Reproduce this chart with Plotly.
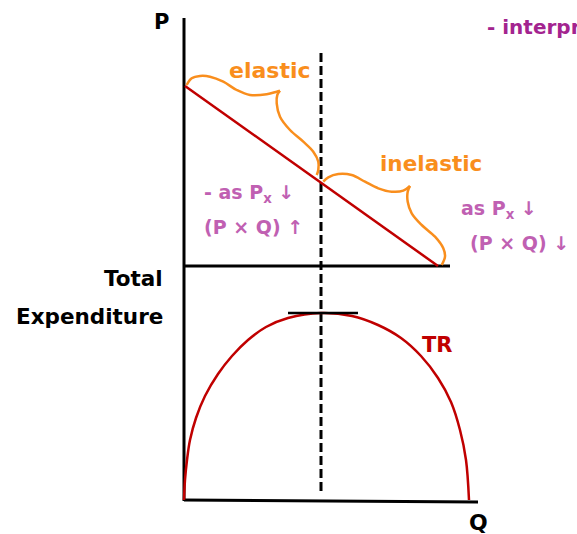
import plotly.graph_objects as go

# ---- data (diagram units ~ pixels, y grows downward) ----
price_axis_x = [184, 184]
price_axis_y = [18, 501]
upper_base_x = [184, 450]
upper_base_y = [266, 266]
lower_base_x = [184, 478]
lower_base_y = [500, 502]

demand_q = [185, 438]
demand_p = [86, 266]

unit_elastic_q = [321, 321]
unit_elastic_y = [53, 492]

tr_q = [184, 185, 187, 190, 196, 205, 218, 232, 248, 266, 288, 321,
        352, 378, 401, 421, 438, 451, 460, 466, 469]
tr_val = [500, 480, 460, 440, 418, 396, 374, 356, 340, 327, 318, 313,
          316, 325, 338, 356, 378, 402, 430, 460, 500]

tangent_x = [288, 358]
tangent_y = [313, 313]

elastic_brace_a_x = [186.7, 191.7, 200, 210, 223.3, 236.7, 250, 266.7, 276.7, 280]
elastic_brace_a_y = [85, 78.3, 76, 76.7, 81.7, 90, 95, 94.3, 91.7, 90.7]
elastic_brace_b_x = [280, 277.3, 276.7, 280, 290, 303.3, 313.3, 318.3, 318.3, 316.7]
elastic_brace_b_y = [90.7, 95, 103.3, 116.7, 130, 141.7, 151.7, 161.7, 170, 175]

inelastic_brace_a_x = [323.3, 328.3, 338.3, 351.7, 365, 378.3, 391.7, 403.3, 410]
inelastic_brace_a_y = [181.7, 177.3, 174, 175, 181.7, 188.3, 191.7, 190.7, 186]
inelastic_brace_b_x = [410, 407.7, 407.7, 411.7, 421.7, 435, 443.3, 445, 441.7]
inelastic_brace_b_y = [186, 191.7, 201.7, 213.3, 225, 236.7, 248.3, 256.7, 265]

ORANGE = "#f98e1d"
RED = "#c00000"
PINK = "#c060b2"
MAGENTA = "#a3248f"
FONT = "DejaVu Sans, sans-serif"

fig = go.Figure()

def line(x, y, color, width, dash="solid", shape="linear"):
    fig.add_trace(go.Scatter(x=x, y=y, mode="lines", hoverinfo="skip",
                             line=dict(color=color, width=width, dash=dash, shape=shape),
                             showlegend=False))

line(price_axis_x, price_axis_y, "black", 3)
line(upper_base_x, upper_base_y, "black", 3)
line(lower_base_x, lower_base_y, "black", 3)
line(unit_elastic_q, unit_elastic_y, "black", 3, dash="9px,4px")
line(demand_q, demand_p, RED, 2.5)
line(tr_q, tr_val, RED, 2.5, shape="spline")
line(tangent_x, tangent_y, "black", 2.5)
line(elastic_brace_a_x, elastic_brace_a_y, ORANGE, 2.5, shape="spline")
line(elastic_brace_b_x, elastic_brace_b_y, ORANGE, 2.5, shape="spline")
line(inelastic_brace_a_x, inelastic_brace_a_y, ORANGE, 2.5, shape="spline")
line(inelastic_brace_b_x, inelastic_brace_b_y, ORANGE, 2.5, shape="spline")

def txt(x, y, text, color, size, anchor="center"):
    fig.add_annotation(x=x, y=y, text=text, showarrow=False, xanchor=anchor,
                       yanchor="middle",
                       font=dict(family=FONT, size=size, color=color, weight="bold"))

txt(161, 22, "P", "black", 21)
txt(478, 522, "Q", "black", 22)
txt(165, 278, "Total", "black", 21.5, anchor="right")
txt(165, 316, "Expenditure", "black", 21.5, anchor="right")
txt(485, 27, "- interpretation", MAGENTA, 20, anchor="left")
txt(270, 70, "elastic", ORANGE, 22)
txt(431, 163, "inelastic", ORANGE, 21.5)
txt(202, 193, "- as P<sub>x</sub> ↓", PINK, 19, anchor="left")
txt(202, 227, "(P × Q) ↑", PINK, 19, anchor="left")
txt(459, 209, "as P<sub>x</sub> ↓", PINK, 19, anchor="left")
txt(468, 243, "(P × Q) ↓", PINK, 19, anchor="left")
txt(437, 345, "TR", RED, 21)

fig.update_layout(
    width=577, height=534,
    margin=dict(l=0, r=0, t=0, b=0),
    plot_bgcolor="white", paper_bgcolor="white",
    xaxis=dict(range=[0, 577], visible=False, fixedrange=True),
    yaxis=dict(range=[534, 0], visible=False, fixedrange=True),
)

fig.write_html("out.html", config={"displayModeBar": False},
               post_script="document.body.style.margin='0';")
